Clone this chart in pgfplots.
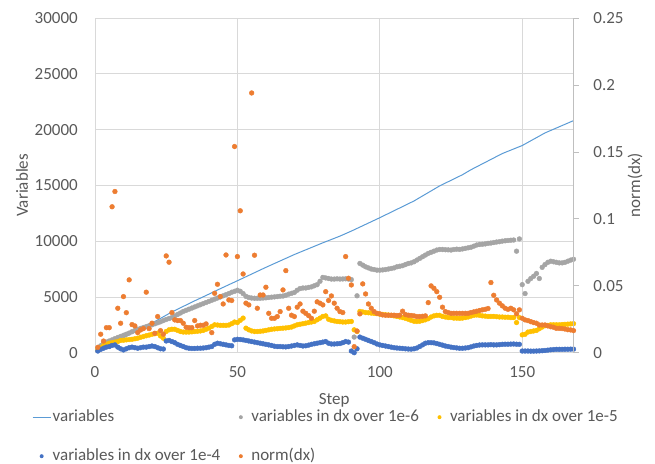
\documentclass[border=0pt]{standalone}
\usepackage{fontspec}
\setmainfont{Carlito}
\usepackage{pgfplots}
\usepackage{pgfplotstable}
\pgfplotsset{compat=1.18}

\definecolor{totalblue}{HTML}{5B9BD5}
\definecolor{sixgray}{HTML}{A5A5A5}
\definecolor{fivegold}{HTML}{FFC000}
\definecolor{fourblue}{HTML}{4472C4}
\definecolor{normorange}{HTML}{ED7D31}
\definecolor{txt}{HTML}{595959}
\definecolor{gridc}{HTML}{D9D9D9}
\definecolor{axisc}{HTML}{BFBFBF}

\newcommand\chartfont{\fontsize{17bp}{20bp}\selectfont}

% total number of variables per step
\pgfplotstableread{
step total
1 150
10 1350
20 2650
27 3650
35 4650
40 5250
43 5620
50 6450
60 7650
70 8800
80 9850
86 10450
90 10900
100 12100
112 13600
121 14950
129 15950
132 16400
143 17850
150 18570
158 19700
168 20800
}\totaltable

% variables whose update exceeds a threshold, and the norm of the update
\pgfplotstableread{
step over6 over5 over4 norm
1 400 250 150 0.0040
2 620 450 300 0.0138
3 850 650 400 0.0087
4 950 750 500 0.0187
5 1050 850 550 0.0187
6 1150 900 650 0.1090
7 1260 950 700 0.1204
8 1360 1000 500 0.0332
9 1460 1100 350 0.0220
10 1560 1120 250 0.0419
11 1660 1150 350 0.0299
12 1760 1180 450 0.0544
13 1880 1200 500 0.0210
14 1990 1250 450 0.0200
15 2100 1300 400 0.0150
16 2180 1380 450 0.0170
17 2260 1450 500 0.0180
18 2340 1520 500 0.0452
19 2420 1580 550 0.0180
20 2500 1650 600 0.0220
21 2590 1700 550 0.0145
22 2680 1750 450 0.0270
23 2770 1500 350 0.0165
24 2880 1300 330 0.0138
25 2980 1900 1050 0.0723
26 3060 2050 1100 0.0676
27 3150 2100 1000 0.0300
28 3290 2100 900 0.0245
29 3430 2000 750 0.0240
30 3560 1900 650 0.0240
31 3700 1850 550 0.0220
32 3800 1850 450 0.0190
33 3900 1850 400 0.0187
34 4000 1870 380 0.0187
35 4100 1900 380 0.0240
36 4200 1920 400 0.0200
37 4300 1950 400 0.0205
38 4400 2000 420 0.0205
39 4500 2100 450 0.0215
40 4600 2200 500 nan
41 4700 2350 550 0.0150
42 4800 2500 750 0.0444
43 4900 2480 850 0.0511
44 5000 2450 800 0.0419
45 5100 2450 750 0.0364
46 5200 2450 700 0.0730
47 5300 2480 650 0.0394
48 5420 2600 620 0.0390
49 5500 2750 1150 0.1540
50 5600 2700 1200 0.0718
51 5500 2900 1180 0.1060
52 5300 3100 1150 0.0588
53 5050 2200 1100 0.0370
54 4950 2050 1050 0.0357
55 4900 1950 1000 0.1940
56 4880 1900 950 0.0728
57 4880 1900 900 0.0332
58 4880 1920 850 0.0431
59 4900 1950 800 0.0431
60 4920 2000 750 0.0489
61 4950 2050 700 0.0294
62 4980 2100 650 0.0257
63 5000 2130 580 0.0257
64 5030 2150 550 0.0270
65 5060 2180 550 0.0307
66 5080 2200 530 0.0469
67 5150 2220 520 0.0613
68 5250 2250 550 0.0332
69 5320 2300 600 0.0280
70 5400 2400 650 0.0270
71 5600 2500 700 0.0340
72 5750 2550 650 0.0364
73 5800 2600 600 0.0310
74 5800 2650 620 0.0294
75 5850 2700 680 0.0277
76 5900 2750 750 0.0257
77 6000 2800 800 0.0310
78 6100 2950 850 0.0380
79 6400 3100 900 0.0370
80 6750 3250 950 0.0357
81 6700 3300 1000 0.0456
82 6650 3000 850 0.0390
83 6600 2900 780 0.0424
84 6600 2850 780 0.0370
85 6620 2800 800 0.0332
86 6600 2780 820 0.0307
87 6610 2750 900 0.0300
88 6620 2750 1000 0.0718
89 6600 2780 950 0.0556
90 6550 2800 150 0.0506
91 1400 2050 0 0.0045
92 5100 1900 350 0.0162
93 8000 3700 1400 0.0290
94 7850 3650 1300 0.0514
95 7700 3600 1200 0.0439
96 7600 3580 1100 0.0364
97 7500 3550 1000 0.0332
98 7450 3520 900 0.0307
99 7400 3500 780 0.0294
100 7400 3450 700 0.0290
101 7420 3430 650 0.0282
102 7450 3400 600 0.0280
103 7500 3380 550 0.0280
104 7550 3350 500 0.0280
105 7600 3300 450 0.0280
106 7700 3250 420 0.0278
107 7750 3200 400 0.0280
108 7800 3150 380 0.0310
109 7900 3080 350 0.0285
110 8000 3000 330 0.0280
111 8050 2900 320 0.0278
112 8150 2820 350 0.0275
113 8300 2800 420 0.0270
114 8450 2820 550 0.0270
115 8600 2880 700 0.0272
116 8750 2950 850 0.0275
117 8900 3050 900 0.0374
118 9000 3200 900 0.0499
119 9100 3300 880 0.0481
120 9200 3350 820 0.0456
121 9250 3350 750 0.0414
122 9250 3250 680 0.0340
123 9230 3200 600 0.0307
124 9220 3150 550 0.0300
125 9200 3150 500 0.0294
126 9250 3100 460 0.0294
127 9280 3100 430 0.0294
128 9260 3080 400 0.0294
129 9300 3100 400 0.0294
130 9350 3150 420 0.0294
131 9400 3200 450 0.0294
132 9450 3280 520 0.0300
133 9550 3350 600 0.0305
134 9650 3380 650 0.0310
135 9700 3350 690 0.0315
136 9720 3300 700 0.0320
137 9750 3280 700 0.0324
138 9800 3250 700 0.0330
139 9830 3250 720 0.0524
140 9870 3250 700 0.0429
141 9920 3230 700 0.0394
142 9950 3200 720 0.0370
143 10000 3200 750 0.0350
144 10030 3180 760 0.0332
145 10060 3180 760 0.0324
146 10080 3150 770 0.0332
147 10100 3150 780 0.0320
148 9100 2700 760 0.0290
149 10200 3150 750 0.0320
150 6100 1600 150 0.0257
151 5300 1650 150 0.0245
152 6400 1850 150 0.0240
153 6650 1900 140 0.0232
154 6850 1950 140 0.0225
155 7100 2000 150 0.0220
156 6650 2150 160 0.0207
157 7650 2300 180 0.0207
158 7900 2420 200 0.0207
159 8100 2450 230 0.0200
160 8200 2500 260 0.0194
161 8150 2500 280 0.0190
162 8100 2500 300 0.0182
163 8050 2500 300 0.0182
164 8050 2520 300 0.0180
165 8100 2540 310 0.0177
166 8200 2560 310 0.0172
167 8300 2580 320 0.0170
168 8380 2600 320 0.0165
}\steptable

\pgfplotsset{
  chartbase/.style={
    at={(95bp,111.3bp)}, anchor=south west,
    scale only axis, width=478.5bp, height=334.7bp,
    xmin=0, xmax=168,
    font=\chartfont,
    every tick label/.append style={font=\chartfont, text=txt, inner sep=0pt},
    /pgf/number format/assume math mode=true,
    /pgf/number format/1000 sep={},
    label style={font=\chartfont, text=txt},
  },
  dots/.style={only marks, mark=*, mark size=2.4bp, color=#1},
  dotlegend/.style={
    legend image code/.code={
      \path[draw=none, fill=none] (0bp,-0.5bp) rectangle (18bp,0.5bp);
      \fill[#1, draw=none] (9bp,0bp) circle (2bp);
    }
  },
}

\begin{document}
\begin{tikzpicture}
\useasboundingbox (0,0) rectangle (655bp,464bp);

% left axis: variable counts
\begin{axis}[
  chartbase,
  ymin=0, ymax=30000,
  xtick={0,50,100,150},
  ytick={0,5000,10000,15000,20000,25000,30000},
  scaled y ticks=false,
  major tick length=0pt,
  grid=major,
  grid style={gridc, line width=0.75bp},
  axis x line*=bottom, axis y line*=left,
  axis line style={gridc, line width=0.75bp},
  yticklabel style={anchor=east, xshift=-17bp},
  xticklabel style={anchor=north, yshift=-14bp},
  xlabel={Step},
  xlabel style={at={(axis description cs:0.5,-0.1413)}, anchor=center},
  ylabel={Variables},
  ylabel style={at={(axis description cs:-0.1526,0.5)}, anchor=center},
]
\addplot[totalblue, line width=1bp] table[x=step, y=total] {\totaltable};
\addplot[dots=sixgray] table[x=step, y=over6] {\steptable};
\addplot[dots=fivegold] table[x=step, y=over5] {\steptable};
\addplot[dots=fourblue] table[x=step, y=over4] {\steptable};
\end{axis}

% right axis: norm of the update
\begin{axis}[
  chartbase,
  ymin=0, ymax=0.25,
  ytick={0,0.05,0.1,0.15,0.2,0.25},
  scaled y ticks=false,
  yticklabel style={/pgf/number format/fixed, /pgf/number format/precision=2, anchor=west, xshift=14.7bp},
  axis x line=none,
  axis y line*=right,
  axis line style={axisc, line width=0.75bp},
  tick style={axisc, line width=0.75bp},
  tick align=outside, major tick length=5bp,
  ylabel={norm(dx)},
  ylabel style={at={(axis description cs:1.1285,0.5)}, anchor=center},
  legend columns=3,
  legend cell align=left,
  legend style={
    at={(axis description cs:-0.1317,-0.1682)}, anchor=north west,
    draw=none, fill=none, inner sep=0pt,
    font=\chartfont, text=txt,
    row sep=23bp,
    nodes={inner xsep=1.5bp, inner ysep=0pt, text height=12bp, text depth=4bp},
    /tikz/every even column/.append style={column sep=10bp},
  },
]
\addlegendimage{totalblue, line width=1bp, legend image code/.code={\draw[totalblue, line width=1bp] (0bp,0bp) -- (18bp,0bp);}}
\addlegendentry{variables}
\addlegendimage{dotlegend=sixgray}
\addlegendentry{variables in dx over 1e-6}
\addlegendimage{dotlegend=fivegold}
\addlegendentry{variables in dx over 1e-5}
\addlegendimage{dotlegend=fourblue}
\addlegendentry{variables in dx over 1e-4}
\addplot[dots=normorange, dotlegend=normorange] table[x=step, y=norm] {\steptable};
\addlegendentry{norm(dx)}
\end{axis}
\end{tikzpicture}
\end{document}
